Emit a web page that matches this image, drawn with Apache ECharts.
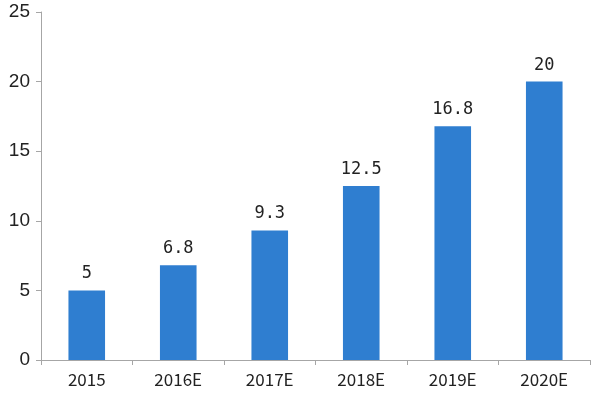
<!DOCTYPE html>
<html>
<head>
<meta charset="utf-8">
<script src="https://cdn.jsdelivr.net/npm/echarts@6/dist/echarts.min.js"></script>
<style>
  html, body { margin: 0; padding: 0; background: #fff; }
  #main { width: 600px; height: 397px; }
</style>
</head>
<body>
<div id="main"></div>
<script>
  var years = ['2015', '2016E', '2017E', '2018E', '2019E', '2020E'];
  var values = [5, 6.8, 9.3, 12.5, 16.8, 20];
  var yTicks = [0, 5, 10, 15, 20, 25];

  var myChart = echarts.init(document.getElementById('main'));
  var option = {
    animation: false,
    grid: { left: 41, right: 10, top: 12, bottom: 37 },
    xAxis: {
      type: 'category',
      data: years,
      boundaryGap: true,
      axisLine: { lineStyle: { color: '#a6a6a6', width: 1 } },
      axisTick: { show: true, length: 5, lineStyle: { color: '#a6a6a6' } },
      axisLabel: {
        color: '#222',
        fontSize: 17,
        fontFamily: 'Noto Sans CJK JP',
        margin: 11
      }
    },
    yAxis: {
      type: 'value',
      min: yTicks[0],
      max: yTicks[yTicks.length - 1],
      interval: 5,
      axisLine: { show: true, lineStyle: { color: '#a6a6a6', width: 1 } },
      axisTick: { show: true, length: 5, lineStyle: { color: '#a6a6a6' } },
      splitLine: { show: false },
      axisLabel: {
        color: '#222',
        fontSize: 19,
        fontFamily: 'Liberation Sans',
        margin: 11
      }
    },
    series: [{
      type: 'bar',
      data: values,
      barWidth: '40%',
      itemStyle: { color: '#2f7ed0' },
      label: {
        show: true,
        position: 'top',
        distance: 8,
        color: '#222',
        fontSize: 17,
        fontFamily: 'DejaVu Sans Mono'
      }
    }]
  };
  myChart.setOption(option);
</script>
</body>
</html>
